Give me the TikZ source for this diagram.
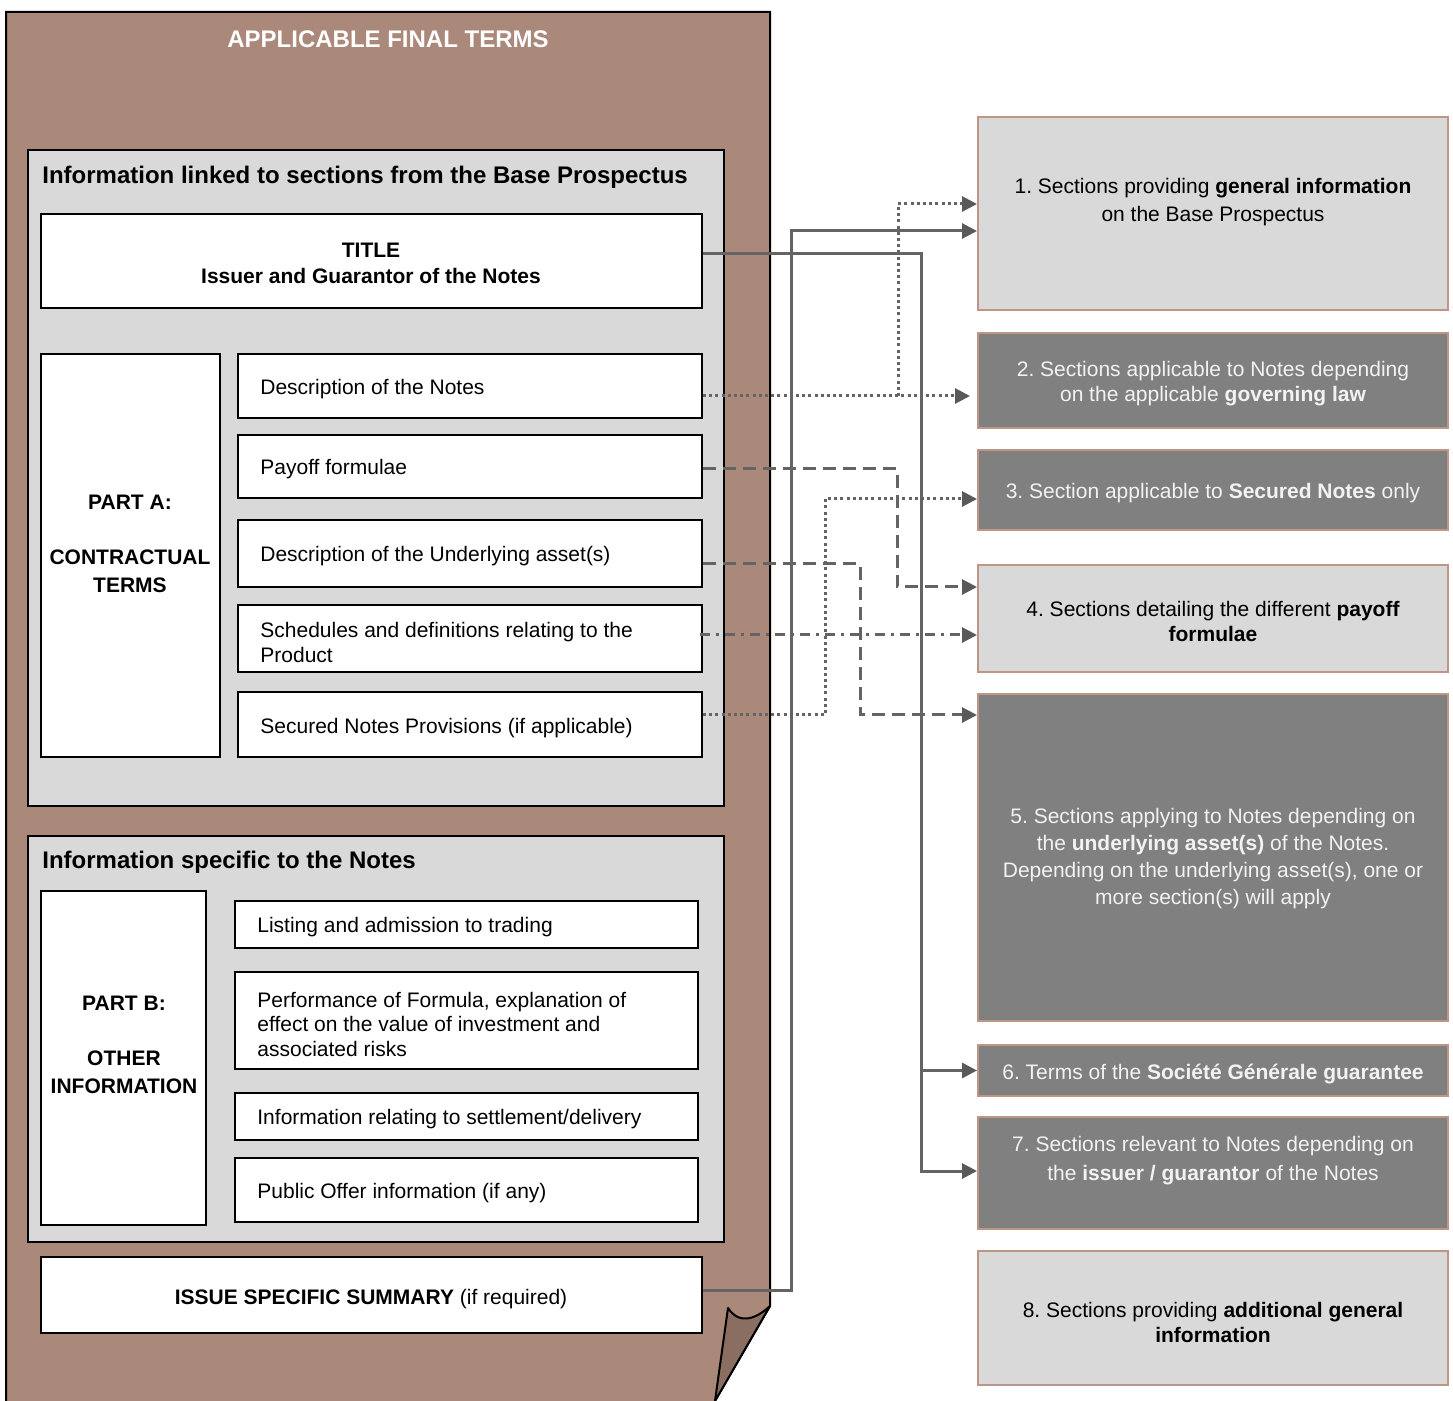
\documentclass[tikz,border=0pt]{standalone}
\usepackage{fontspec}
\setmainfont{Liberation Sans}
\usetikzlibrary{arrows.meta,fit}
\definecolor{pagebrown}{RGB}{170,136,122}
\definecolor{flapbrown}{RGB}{138,110,98}
\definecolor{panelgray}{RGB}{217,217,217}
\definecolor{darkbox}{RGB}{128,128,128}
\definecolor{rborder}{RGB}{190,150,135}
\definecolor{conncol}{RGB}{100,100,100}
\definecolor{arrowcol}{RGB}{89,89,89}
\definecolor{lighttext}{RGB}{242,242,242}
\newcommand\bodyfont{\fontsize{10.5}{12.5}\selectfont}
\frenchspacing
\begin{document}
\frenchspacing
\begin{tikzpicture}[x=0.5pt,y=-0.5pt,
  panel/.style={draw=black, line width=1pt, fill=panelgray, inner sep=0pt},
  wbox/.style={draw=black, line width=1pt, fill=white, inner sep=0pt},
  lbox/.style={draw=rborder, line width=1pt, fill=panelgray, inner sep=0pt},
  dbox/.style={draw=rborder, line width=1pt, fill=darkbox, inner sep=0pt},
  body/.style={font=\bodyfont, align=center, inner sep=0pt, yshift=-1pt},
  bodyb/.style={font=\bodyfont\bfseries, align=center, inner sep=0pt, yshift=-1pt},
  lefttxt/.style={font=\bodyfont, align=left, anchor=west, inner sep=0pt, yshift=-1pt},
  hdr/.style={font=\fontsize{12}{14}\selectfont\bfseries, inner sep=0pt, anchor=west, yshift=-1pt},
  wtxt/.style={body, text=lighttext},
  conn/.style={draw=conncol, line width=1.5pt, -{Triangle[length=7.5pt,width=7.5pt,color=arrowcol,fill=arrowcol]}},
  dotc/.style={dash pattern=on 1.5pt off 1.6pt},
  dashc/.style={dash pattern=on 6.5pt off 3.5pt},
  dashdotc/.style={dash pattern=on 5pt off 3pt on 1.5pt off 3pt}
]
\useasboundingbox (0,0) rectangle (1453,1401);
\fill[white] (0,0) rectangle (1453,1401);

% page with folded corner
\path[fill=pagebrown, draw=black, line width=1pt] (6,1420) -- (6,12) -- (770,12) -- (770,1306) -- (704,1420) -- cycle;
\path[fill=flapbrown, draw=black, line width=1pt, line join=round]
  (770,1306) .. controls (757,1318) and (740,1326) .. (728,1308) -- (715,1401) -- cycle;

\node[font=\fontsize{12}{14}\selectfont\bfseries, text=white, inner sep=0pt, yshift=-0.5pt] (pagetitle) at (388,38) {APPLICABLE FINAL TERMS};

% panel A
\node[panel, fit={(28,150) (724,806)}] (panelA) {};
\node[hdr] (hdrA) at (42,175) {Information linked to sections from the Base Prospectus};
\node[wbox, fit={(41,214) (702,308)}] (title) {};
\node[bodyb, font=\fontsize{10.5}{13}\selectfont\bfseries] (titletxt) at (371,261) {TITLE\\Issuer and Guarantor of the Notes};
\node[wbox, fit={(41,354) (220,757)}] (partA) {};
\node[bodyb, font=\fontsize{10.5}{13.8}\selectfont\bfseries] (partAtxt) at (130,541.5) {PART A:\\[13.8pt]CONTRACTUAL\\TERMS};
\node[wbox, fit={(238,354) (702,418)}] (desc) {};
\node[lefttxt] (desctxt) at (260,387) {Description of the Notes};
\node[wbox, fit={(238,435) (702,498)}] (payoff) {};
\node[lefttxt] (payofftxt) at (260,467) {Payoff formulae};
\node[wbox, fit={(238,520) (702,587)}] (under) {};
\node[lefttxt] (undertxt) at (260,554) {Description of the Underlying asset(s)};
\node[wbox, fit={(238,605) (702,672)}] (sched) {};
\node[lefttxt] (schedtxt) at (260,640.5) {Schedules and definitions relating to the\\Product};
\node[wbox, fit={(238,692) (702,757)}] (secured) {};
\node[lefttxt] (securedtxt) at (260,726) {Secured Notes Provisions (if applicable)};

% panel B
\node[panel, fit={(28,836) (724,1242)}] (panelB) {};
\node[hdr] (hdrB) at (42,860) {Information specific to the Notes};
\node[wbox, fit={(41,891) (206,1225)}] (partB) {};
\node[bodyb, font=\fontsize{10.5}{13.8}\selectfont\bfseries] (partBtxt) at (124,1043) {PART B:\\[13.8pt]OTHER\\INFORMATION};
\node[wbox, fit={(235,901) (698,948)}] (listing) {};
\node[lefttxt] (listingtxt) at (257,925) {Listing and admission to trading};
\node[wbox, fit={(235,972) (698,1069)}] (perf) {};
\node[lefttxt, font=\fontsize{10.5}{12.25}\selectfont] (perftxt) at (257,1022) {Performance of Formula, explanation of\\effect on the value of investment and\\associated risks};
\node[wbox, fit={(235,1093) (698,1140)}] (settle) {};
\node[lefttxt] (settletxt) at (257,1117) {Information relating to settlement/delivery};
\node[wbox, fit={(235,1158) (698,1222)}] (offer) {};
\node[lefttxt] (offertxt) at (257,1191) {Public Offer information (if any)};

% summary
\node[wbox, fit={(41,1257) (702,1333)}] (summary) {};
\node[body] (summarytxt) at (371,1297) {\textbf{ISSUE SPECIFIC SUMMARY} (if required)};

% right boxes
\node[lbox, fit={(978,117) (1448,310)}] (box1) {};
\node[body, font=\fontsize{10.5}{14}\selectfont] (t1) at (1213,200) {1. Sections providing \textbf{general information}\\on the Base Prospectus};
\node[dbox, fit={(978,333) (1448,428)}] (box2) {};
\node[wtxt] (t2) at (1213,382) {2. Sections applicable to Notes depending\\on the applicable \textbf{governing law}};
\node[dbox, fit={(978,450) (1448,530)}] (box3) {};
\node[wtxt] (t3) at (1213,491) {3. Section applicable to \textbf{Secured Notes} only};
\node[lbox, fit={(978,565) (1448,672)}] (box4) {};
\node[body] (t4) at (1213,619) {4. Sections detailing the different \textbf{payoff}\\\textbf{formulae}};
\node[dbox, fit={(978,694) (1448,1021)}] (box5) {};
\node[wtxt, font=\fontsize{10.5}{13.5}\selectfont] (t5) at (1213,857) {5. Sections applying to Notes depending on\\the \textbf{underlying asset(s)} of the Notes.\\Depending on the underlying asset(s), one or\\more section(s) will apply};
\node[dbox, fit={(978,1045) (1448,1096)}] (box6) {};
\node[wtxt] (t6) at (1213,1072) {6. Terms of the \textbf{Société Générale guarantee}};
\node[dbox, fit={(978,1117) (1448,1229)}] (box7) {};
\node[wtxt, font=\fontsize{10.5}{14.5}\selectfont] (t7) at (1213,1159) {7. Sections relevant to Notes depending on\\the \textbf{issuer / guarantor} of the Notes};
\node[lbox, fit={(978,1251) (1448,1385)}] (box8) {};
\node[body] (t8) at (1213,1320) {8. Sections providing \textbf{additional general}\\\textbf{information}};

% connector turning points
\coordinate (j1) at (921,254);
\coordinate (j1b) at (921,1171);
\coordinate (j2) at (791,1290);
\coordinate (j2t) at (791,231);
\coordinate (jd) at (898,396);
\coordinate (jdt) at (898,204);
\coordinate (e2) at (970,396);
\coordinate (jp1) at (897,469);
\coordinate (jp2) at (897,587);
\coordinate (ju1) at (860,564);
\coordinate (ju2) at (860,715);
\coordinate (js1) at (825,715);
\coordinate (js2) at (825,499);
\coordinate (ysc) at (700,635);

% solid connectors
\draw[conn] (title.east |- j1) -- (j1) -- (j1b) -- (box7.west |- j1b);
\draw[conn] (j1 |- box6.west) -- (box6.west);
\draw[conn] (summary.east |- j2) -- (j2) -- (j2t) -- (box1.west |- j2t);

% dotted connectors
\draw[conn, dotc] (desc.east |- jd) -- (e2);
\draw[conn, dotc] (jd) -- (jdt) -- (box1.west |- jdt);
\draw[conn, dotc] (secured.east |- js1) -- (js1) -- (js2) -- (box3.west |- js2);

% dashed connectors
\draw[conn, dashc] (payoff.east |- jp1) -- (jp1) -- (jp2) -- (box4.west |- jp2);
\draw[conn, dashc] (under.east |- ju1) -- (ju1) -- (ju2) -- (box5.west |- ju2);

% dash-dot connector
\draw[conn, dashdotc] (ysc) -- (box4.west |- ysc);
\end{tikzpicture}
\end{document}
